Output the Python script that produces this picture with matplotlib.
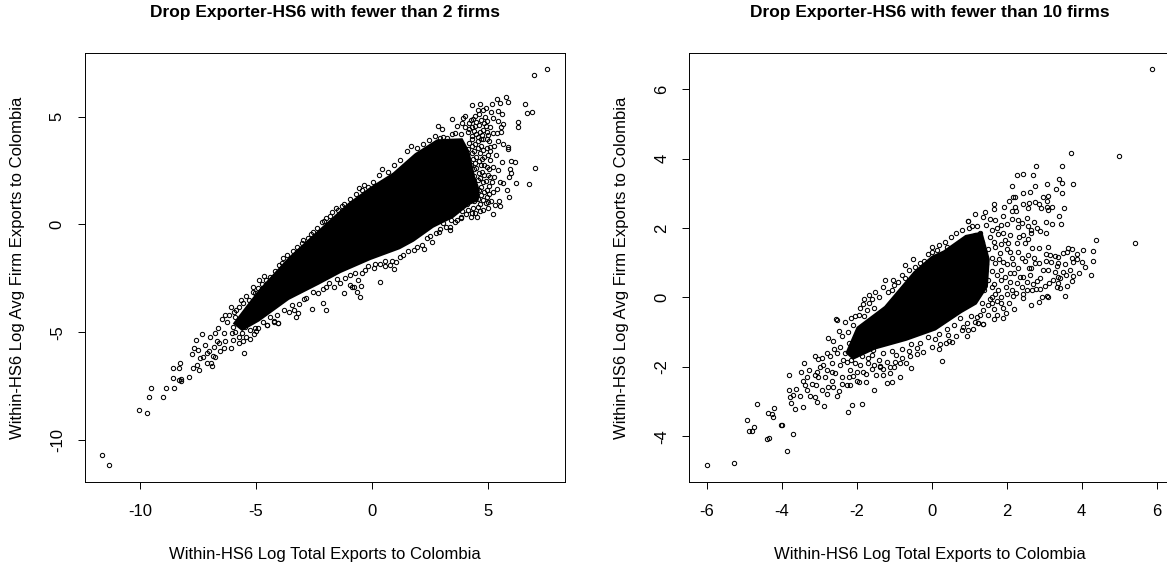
import matplotlib
matplotlib.use("Agg")
import matplotlib.pyplot as plt

plt.rcParams['font.family'] = ['Liberation Sans', 'DejaVu Sans']
plt.rcParams['axes.unicode_minus'] = False

W, H = 1167, 566

titles = ["Drop Exporter-HS6 with fewer than 2 firms", "Drop Exporter-HS6 with fewer than 10 firms"]
xlabel = "Within-HS6 Log Total Exports to Colombia"
ylabel = "Within-HS6 Log Avg Firm Exports to Colombia"
left_xticks = [-10, -5, 0, 5]
left_yticks = [-10, -5, 0, 5]
right_xticks = [-6, -4, -2, 0, 2, 4, 6]
right_yticks = [-4, -2, 0, 2, 4, 6]

# Outline of the region that is solid black in the picture (too dense to read single points)
left_core_x = [-6.0, -5.4, -4.86, -3.58, -2.3, -1.02, -0.06, 0.9, 1.85, 2.8, 3.9, 4.2, 4.45, 4.65, 4.6, 4.2, 3.5, 2.65, 1.8, 1.2, -0.06, -1.34, -2.3, -3.58, -4.86, -5.6]
left_core_y = [-4.6, -3.75, -3.0, -1.5, -0.25, 1.0, 1.75, 2.4, 3.3, 3.95, 4.0, 3.4, 2.2, 1.6, 1.1, 0.9, 0.3, -0.15, -0.8, -1.15, -1.65, -2.25, -2.8, -3.5, -4.5, -4.95]

right_core_x = [-2.3, -2.0, -1.26, -0.48, 0.0, 0.31, 0.9, 1.35, 1.55, 1.5, 1.2, 0.8, 0.11, -0.67, -1.5, -2.1]
right_core_y = [-1.6, -0.85, -0.25, 0.75, 1.2, 1.35, 1.8, 1.9, 1.1, 0.3, -0.2, -0.45, -0.95, -1.25, -1.5, -1.8]

left_points = [
    (-11.62,-10.70),(-11.32,-11.18),(-10.06,-8.62),(-9.69,-8.75),(-9.60,-8.0),(-9.51,-7.59),(-9.02,-8.02),(-8.9,-7.57),
    (-8.55,-7.57),(-8.56,-7.12),(-8.56,-6.67),(-8.30,-6.67),(-8.27,-6.44),(-8.33,-7.2),(-8.23,-7.17),(-8.22,-7.28),
    (-7.87,-7.08),(-7.70,-6.67),(-7.59,-5.37),(-7.34,-5.08),(-7.69,-5.75),(-7.76,-6.01),(-7.44,-6.77),(-7.55,-6.54),
    (-7.43,-6.21),(-5.53,-5.96),(-6.09,-5.75),(-6.76,-5.05),(-6.98,-5.24),(-6.65,-4.79),(-6.47,-4.4),(-6.09,-3.81),
    (-5.66,-3.5),(-7.2,-5.59),(-6.91,-6.59),(-6.94,-6.41),(-7.13,-6.44),(-7.27,-6.16),(-7.48,-5.82),(-7.02,-5.86),
    (-6.76,-6.13),(-6.55,-5.86),(-6.4,-5.75),(-6.69,-5.43),(-6.33,-5.43),(-5.97,-5.36),(-5.75,-5.51),(-5.26,-5.33),
    (-5.58,-5.39),(-4.93,-4.82),(-4.54,-4.68),(-4.24,-4.54),(-4.07,-4.59),(-5.04,-4.82),(-6.0,-4.74),(-6.33,-4.2),
    (-5.9,-4.28),(-5.47,-4.74),(-6.4,-5.05),(-6.05,-5.05),(-5.6,-5.05),(-6.8,-5.7),(-6.6,-5.5),(-6.85,-6.1),(-7.1,-5.95),
    (-6.25,-4.55),(-6.15,-4.2),(-5.85,-3.95),(-5.55,-3.65),(-5.3,-3.5),(-5.05,-3.2),(-4.75,-2.75),(-4.4,-2.45),
    (0.33,-2.68),(-0.5,-3.36),(-0.63,-3.13),(-0.47,-2.84),(-1.22,-3.16),(-0.95,-2.79),(-0.87,-2.91),(-0.77,-2.91),
    (-2.1,-3.63),(-1.97,-3.98),(-2.6,-3.92),(-3.18,-4.12),(-3.29,-4.29),(-3.36,-3.98),(-3.58,-4.07),(-4.06,-4.58),
    (-4.24,-4.5),(-4.51,-4.66),(-1.74,0.58),(-0.56,1.68),(-0.18,1.74),(-0.41,1.6),(-1.31,0.87),(-1.45,0.67),(-1.98,0.29),
    (-2.17,0.09),(-2.53,-0.36),(-2.74,-0.61),(-2.96,-0.71),(-3.42,-1.21),(-3.82,-1.57),(-4.01,-1.88),(-4.64,-2.39),
    (-4.86,-2.57),(-5.12,-2.88),(0.96,-2.08),(0.78,-1.88),(0.56,-1.92),(0.09,-2.03),(-0.3,-2.11),(-0.59,-2.57),
    (-0.95,-2.34),(-1.38,-2.7),(-1.64,-2.88),(-1.98,-2.91),(-2.31,-3.16),(-2.85,-3.42),(1.2,-1.52),(1.79,-1.2),(2.26,-1.15),
    (2.58,-0.8),(2.37,-0.64),(2.9,-0.33),(3.36,-0.25),(3.82,0.32),(4.15,0.67),(7.56,7.2),(6.98,6.91),(5.79,5.9),(5.40,5.81),
    (5.85,5.67),(5.52,5.64),(5.17,5.6),(4.66,5.58),(4.31,5.52),(6.6,5.58),(6.68,5.19),(6.9,5.22),(6.31,4.77),(6.31,4.51),
    (7.03,2.63),(6.75,1.88),(6.21,1.92),(5.92,1.28),(6.0,2.93),(6.18,2.88),(5.2,0.5),(5.52,0.86),(3.46,4.88),(2.84,4.57),
    (3.02,4.45),(4.93,5.42),(4.78,5.31),(4.56,5.31),(5.13,5.23),(5.45,5.28),(5.62,5.1),(4.6,5.11),(4.44,5.02),(4.02,5.05),
    (3.91,4.96),(4.87,5.0),(5.23,4.93),(5.45,4.82),(5.66,4.65),(5.56,4.54),(4.95,4.8),(5.09,4.54),(3.87,4.72),(4.0,4.5),
    (3.65,4.55),(4.3,4.53),(4.6,4.62),(4.8,4.4),(5.55,4.31),(5.23,4.24),(5.4,4.22),(5.0,4.15),(5.45,3.87),(5.66,3.72),
    (5.88,3.61),(5.88,3.5),(5.09,3.41),(5.35,3.22),(5.59,2.88),(5.09,2.99),(5.2,2.68),(5.45,2.53),(5.95,2.56),(6.0,2.37),
    (5.92,2.2),(5.83,1.61),(5.52,1.97),(5.66,1.91),(5.16,1.97),(5.49,1.11),(5.3,0.91),(5.0,0.76),(4.8,0.68),(4.54,0.35),
    (4.25,0.33),(3.83,0.33),(3.36,-0.14),(3.08,0.06),(2.93,-0.19),(4.2,4.7),(4.35,4.9),(4.5,4.75),(4.15,4.3),(4.4,4.35),
    (4.65,4.3),(4.9,4.55),(4.3,4.1),(4.55,4.05),(4.8,3.95),(5.05,3.85),(5.25,3.65),(4.2,3.8),(4.45,3.75),(4.7,3.65),
    (4.95,3.55),(4.15,3.5),(4.4,3.4),(4.65,3.3),(4.85,3.15),(4.1,3.15),(4.35,3.05),(4.6,2.95),(4.85,2.75),(5.05,2.55),
    (4.25,2.75),(4.5,2.6),(4.75,2.45),(5.0,2.3),(5.25,2.2),(4.15,2.45),(4.4,2.25),(4.65,2.15),(4.9,2.0),(4.2,2.05),
    (4.45,1.85),(4.7,1.75),(4.95,1.6),(5.2,1.5),(5.4,1.65),(4.2,1.65),(4.45,1.45),(4.7,1.35),(4.95,1.25),(5.15,1.1),
    (4.15,1.25),(4.4,1.1),(4.65,0.95),(4.9,1.0),(4.1,0.95),(3.9,0.6),(4.05,0.5),(4.35,0.75),(3.6,0.1),(3.4,0.2),
    (3.6,4.25),(3.85,4.2),(3.25,4.0),(3.45,4.2),(3.05,4.05),
    # plume, second reading
    (4.25,4.85),(4.45,4.55),(4.7,4.85),(4.85,4.7),(4.2,4.45),(4.5,4.2),(4.75,4.15),(4.95,4.3),(4.3,3.95),(4.55,3.85),
    (4.7,3.95),(4.95,3.95),(4.3,3.65),(4.55,3.55),(4.8,3.45),(5.1,3.6),(4.3,3.3),(4.5,3.15),(4.75,3.05),(5.0,3.2),
    (4.45,2.85),(4.7,2.75),(4.95,2.65),(4.4,2.55),(4.6,2.4),(4.85,2.3),(5.1,2.2),(4.55,2.05),(4.8,1.95),(5.05,1.8),
    (4.6,1.6),(4.85,1.5),(5.05,1.4),(4.55,1.2),(4.8,1.15),(5.0,1.05),(4.55,0.8),(4.3,0.55),(4.45,0.55),(4.65,0.6),
    (3.65,0.2),(3.2,-0.1),(2.75,-0.4),(2.5,-0.55),(2.15,-0.95),(1.95,-1.05),(1.55,-1.25),(1.35,-1.4),(1.05,-1.75),
    (0.85,-1.7),(0.55,-1.7),(0.35,-1.85),(0.15,-1.85),(-0.15,-1.95),(-0.45,-2.25),(-0.75,-2.25),(-1.15,-2.5),(-1.5,-2.55),
    (-1.85,-2.7),(-2.1,-3.0),(-2.55,-3.15),(-2.95,-3.45),(-3.15,-3.7),(-3.45,-3.75),(-3.8,-3.95),(-4.1,-4.2),(-4.4,-4.3),
    (-4.7,-4.55),(-5.0,-4.95),(-5.25,-4.9),(-5.1,-5.1),(-5.45,-5.2),(-5.75,-5.2),(-5.9,-5.0),
    (-5.95,-4.05),(-5.75,-3.85),(-5.45,-3.3),(-5.15,-3.15),(-4.9,-2.95),(-4.55,-2.6),(-4.2,-2.15),(-3.9,-1.8),(-3.65,-1.4),
    (-3.25,-1.05),(-3.0,-0.85),(-2.65,-0.45),(-2.35,-0.15),(-2.05,0.15),(-1.8,0.4),(-1.55,0.75),(-1.2,0.95),(-0.95,1.2),
    (-0.7,1.4),(-0.35,1.85),(0.05,1.95),(0.3,2.3),(0.45,2.55),(0.7,2.45),(0.95,2.75),(1.2,3.0),(1.5,3.4),(1.7,3.65),
    (1.95,3.55),(2.2,3.75),(2.45,3.9),(2.7,4.1),(2.95,4.0),
]

right_points = [
    (-5.99,-4.84),(-5.27,-4.78),(-3.87,-4.44),(-3.7,-3.95),(-4.39,-4.07),(-4.34,-4.04),(-3.99,-3.67),(-4.03,-3.67),
    (-4.75,-3.73),(-4.8,-3.84),(-4.86,-3.86),(-4.93,-3.52),(-4.23,-3.45),(-4.26,-3.37),(-4.36,-3.33),(-4.2,-3.2),
    (-4.67,-3.07),(-3.65,-3.22),(-3.44,-3.17),(-2.86,-3.14),(-2.24,-3.29),(-2.12,-3.11),(-1.86,-3.08),(-1.55,-2.68),
    (-3.81,-2.24),(-3.49,-2.14),(-3.8,-2.67),(-3.62,-2.65),(-3.78,-2.88),(-3.71,-2.8),(-3.75,-3.03),(-3.51,-2.84),
    (-3.06,-3.0),(-3.11,-2.86),(-3.24,-2.84),(-3.33,-2.67),(-3.09,-2.53),(-3.38,-2.53),(-3.4,-1.88),(-3.11,-1.69),
    (-2.93,-1.76),(-3.04,-1.78),(-3.27,-2.09),(-3.11,-2.24),(-3.33,-2.29),(-3.42,-2.4),(-3.02,-2.3),(-2.8,-2.78),
    (-2.93,-2.67),(-2.77,-2.57),(-2.62,-2.57),(-2.52,-2.84),(-2.47,-2.69),(-2.27,-2.53),(-2.18,-2.53),(-2.09,-2.27),
    (-1.94,-2.43),(-1.76,-2.43),(-1.2,-2.48),(-1.07,-2.43),(-1.49,-2.24),(-1.3,-2.24),(-1.11,-2.17),(-0.84,-2.3),
    (-2.98,-2.0),(-2.8,-2.09),(-2.67,-1.9),(-2.8,-1.59),(-2.76,-1.18),(-2.47,-0.97),(-2.53,-0.65),(-2.62,-1.27),
    (-2.44,-1.42),(-2.53,-1.61),(-2.36,-1.8),(-2.58,-2.19),(-2.4,-2.29),(-2.18,-2.09),(-2.04,-1.9),(-1.82,-2.14),
    (-1.69,-1.9),(-1.38,-2.0),(-0.98,-1.85),(-1.56,-1.52),(3.72,4.15),(4.99,4.09),(5.41,1.58),(5.88,6.58),(4.37,1.66),
    (3.47,3.79),(2.79,3.78),(2.28,3.52),(2.44,3.55),(2.7,3.52),(3.4,3.42),(3.48,3.31),(3.78,3.27),(3.07,3.26),(2.75,3.2),
    (2.15,3.2),(3.32,3.13),(3.47,3.0),(2.44,3.02),(2.62,3.03),(3.11,2.93),(2.98,2.89),(2.22,2.9),(2.16,2.89),(3.07,2.78),
    (2.05,2.77),(1.67,2.68),(1.66,2.56),(3.21,2.62),(3.08,2.62),(3.09,2.52),(3.52,2.58),(2.75,2.74),(2.59,2.73),(2.44,2.68),
    (2.87,2.68),(2.92,2.58),(2.58,2.57),(1.94,2.6),(2.22,2.62),(2.13,2.5),(2.25,2.49),(1.42,2.47),(1.16,2.4),(3.4,2.34),
    (2.54,2.28),(2.73,2.18),(0.97,2.2),(3.05,2.17),(3.2,2.11),(3.44,2.13),(1.08,2.07),(1.37,2.31),(1.91,2.35),(2.31,2.23),
    (2.42,2.15),(2.57,2.06),(2.82,1.99),(2.89,1.9),(2.66,1.95),(2.64,1.87),(3.06,1.85),(2.31,2.04),(2.34,1.75),(2.44,1.81),
    (2.57,1.68),(2.5,1.56),(2.09,1.79),(2.04,1.56),(4.04,1.36),(4.31,1.34),(4.31,1.06),(4.25,0.65),(4.08,0.87),(3.94,0.71),
    (4.0,1.01),(3.88,1.24),(3.74,1.4),(3.63,1.43),(3.51,1.29),(3.62,1.32),(3.78,1.01),(3.87,1.1),(3.73,1.13),(3.78,0.62),
    (3.75,0.46),(3.56,0.04),(3.6,0.34),(3.38,0.41),(3.42,0.26),(3.33,0.29),(3.11,1.44),(2.87,1.41),(2.68,1.41),(3.05,1.24),
    (3.16,1.22),(3.28,1.2),(3.36,1.17),(3.05,1.05),(3.17,1.02),(3.38,0.98),(3.35,0.9),(3.56,0.95),(3.69,0.79),(3.51,0.74),
    (3.58,0.65),(3.29,0.74),(3.11,0.79),(2.96,0.79),(2.87,1.0),(2.75,1.0),(2.73,1.15),(2.57,1.22),(2.66,0.84),(2.89,0.56),
    (2.82,0.46),(2.69,0.4),(3.02,0.32),(3.13,0.41),(3.24,0.51),(3.42,0.55),(3.38,0.6),(2.89,0.24),(2.78,0.24),(2.68,0.2),
    (2.53,0.22),(3.11,0.02),(3.08,0.04),(2.93,0.0),(2.87,-0.14),(2.64,-0.21),(2.44,-0.03),(2.43,0.1),(2.25,0.14),(2.18,0.04),
    (2.2,-0.34),(2.07,-0.17),(1.98,-0.44),(1.89,-0.6),(1.67,-0.63),(1.73,-0.5),(1.89,-0.3),(1.84,-0.17),(1.67,-0.32),
    (1.38,-0.77),(1.24,-0.75),(1.15,-0.7),(2.4,1.15),(2.44,0.59),(2.62,0.64),(2.31,0.84),(2.18,0.96),(2.09,0.69),(2.27,0.41),
    (2.4,0.29),(1.98,0.31),(1.77,0.22),(1.86,0.49),(1.91,1.03),(1.82,1.27),(2.09,1.32),(2.27,1.56),(1.95,1.65),(1.77,1.84),
    (1.86,2.08),(1.69,2.23),(1.55,2.25),(2.0,2.13),(2.13,2.27),(-0.72,0.92),(0.27,-1.82),(-2.54,-0.63),(-1.66,0.06),
    (-1.8,-0.05),(-1.84,-0.2),(-1.66,-0.17),(0.0,1.46),(-0.78,0.66),(-0.1,1.25),(0.15,1.37),(0.35,1.6),(0.51,1.75),(0.97,2.19),
    (-0.31,0.98),(-0.44,0.88),(-1.02,0.5),(-1.3,0.29),(-1.16,0.17),(-1.4,0.0),(-1.73,-0.36),(-1.95,-0.5),(-2.09,-0.8),(-2.24,-1.01),
    (0.55,-1.28),(0.38,-1.32),(0.22,-1.34),(0.02,-1.42),(-0.22,-1.56),(-0.4,-1.64),(-0.58,-1.69),(-0.69,-1.88),(-0.85,-1.9),
    (-0.54,-2.03),(-1.0,-2.0),(-1.2,-1.85),(-1.38,-1.97),(-1.55,-1.95),(0.93,-1.1),(0.98,-0.94),(1.24,-0.73),(1.38,-0.77),
    (0.84,-0.84),(0.44,-1.08),(1.2,-0.56),(1.38,-0.36),(1.51,-0.22),(1.4,0.2),(1.5,0.5),(1.6,0.75),(1.45,0.95),(1.6,1.15),
    (1.5,1.4),(1.35,1.6),(1.55,1.75),(1.3,1.85),(1.15,1.8),(1.7,0.1),(1.65,0.4),(1.75,0.65),(1.7,1.0),(1.7,1.45),
    (1.55,-0.05),(1.35,-0.15),(0.75,-0.6),(0.6,-0.8),(0.4,-0.9),(0.2,-1.05),(-0.1,-1.15),(-0.3,-1.3),(-0.55,-1.35),(-0.8,-1.5),
    (-1.05,-1.55),(-1.3,-1.6),(-1.6,-1.65),(-1.85,-1.7),(-2.15,-1.8),(-1.0,0.35),(-0.7,0.55),(-1.55,-0.3),(-1.8,-0.55),
    # dense band beside the core, second reading
    (1.6,1.95),(1.75,2.0),(1.45,2.1),(1.2,2.05),(1.85,1.55),(1.9,1.85),(2.0,1.4),(2.15,1.15),(2.0,0.95),(1.85,0.8),
    (1.95,0.6),(2.1,0.45),(2.15,0.2),(2.0,0.1),(1.85,0.0),(1.6,-0.15),(1.75,-0.1),(1.5,-0.5),(1.3,-0.5),(1.05,-0.55),
    (2.3,1.3),(2.5,1.05),(2.35,0.6),(2.55,0.45),(2.6,0.85),(2.2,0.7),(1.65,1.6),(1.8,1.1),(1.6,0.3),(1.6,0.0),
    (-2.4,-1.1),(-2.2,-1.3),(-2.3,-1.6),(-2.6,-1.5),(-2.7,-1.7),(-2.45,-1.95),(-2.25,-1.85),(-2.05,-1.65),(-1.9,-1.95),
    (-2.9,-1.95),(-3.05,-2.15),(-2.85,-2.3),(-2.65,-2.15),(-2.4,-2.5),(-2.2,-2.3),(-2.0,-2.15),(-1.75,-2.2),(-1.6,-2.05),
    (-1.3,-2.05),(-1.1,-2.0),(-0.8,-1.75),(-0.6,-1.55),(-1.4,-1.8),(-1.7,-1.75),(-2.0,-2.4),(-2.65,-2.4),(-3.2,-2.5),
    (-2.3,-0.7),(-2.15,-0.6),(-2.05,-0.55),(-1.9,-0.3),(-1.6,-0.05),(-1.5,0.15),(-1.25,0.5),(-1.05,0.2),(-0.9,0.45),
    (-0.6,0.8),(-0.5,1.1),(-0.2,1.05),(0.0,1.3),(0.2,1.5),(0.4,1.45),(0.65,1.85),(0.8,1.95),(1.0,2.0),
    (0.65,-1.1),(0.8,-0.95),(0.95,-0.75),(1.1,-0.9),(0.1,-1.2),(-0.4,-1.45),(-0.95,-1.65),(0.2,-1.5),(0.45,-1.25),
]

def panel(rect, xlim, ylim, xticks, yticks, core_x, core_y, points, title):
    l, r, t, b = rect
    ax = plt.gcf().add_axes([l / W, 1 - b / H, (r - l) / W, (b - t) / H])
    ax.fill(core_x, core_y, color='black', lw=0, zorder=1)
    xs, ys = zip(*points)
    ax.plot(xs, ys, ls='none', marker='o', ms=3.1, mfc='none', mec='black', mew=0.75, zorder=2)
    ax.set_xlim(*xlim)
    ax.set_ylim(*ylim)
    ax.set_xticks(xticks)
    ax.set_yticks(yticks)
    ax.tick_params(axis='both', length=5, width=0.7, labelsize=12)
    ax.tick_params(axis='x', pad=11)
    ax.tick_params(axis='y', pad=9.5)
    for lab in ax.get_yticklabels():
        lab.set_rotation(90)
        lab.set_va('center')
    for s in ax.spines.values():
        s.set_linewidth(0.7)
    ax.set_xlabel(xlabel, fontsize=12, labelpad=20)
    ax.set_ylabel(ylabel, fontsize=12, labelpad=18)
    ax.set_title(title, fontsize=12.5, fontweight='bold', pad=26)
    return ax

fig = plt.figure(figsize=(W / 100, H / 100), dpi=100, facecolor='white')
panel((85, 565, 53.5, 482), (-12.37, 8.32), (-11.95, 7.93), left_xticks, left_yticks,
      left_core_x, left_core_y, left_points, titles[0])
panel((689.4, 1169.4, 53.5, 482), (-6.46, 6.34), (-5.32, 7.03), right_xticks, right_yticks,
      right_core_x, right_core_y, right_points, titles[1])
fig.savefig('out.png', dpi=100)
